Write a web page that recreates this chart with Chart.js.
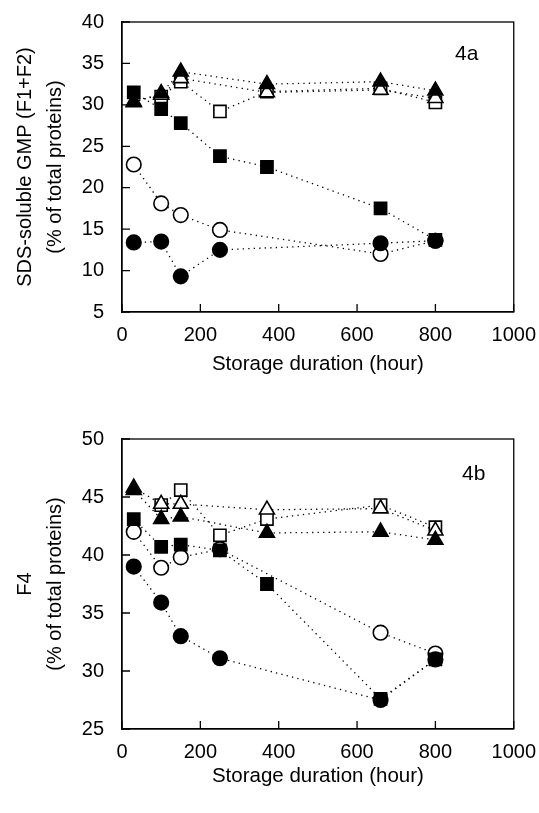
<!DOCTYPE html>
<html>
<head>
<meta charset="utf-8">
<script src="https://cdn.jsdelivr.net/npm/chart.js@4/dist/chart.umd.min.js"></script>
<style>
  html, body { margin: 0; padding: 0; background: #fff; overflow: hidden; }
  body { width: 539px; height: 813px; position: relative; }
  .box { position: absolute; left: 0; width: 539px; }
  #boxA { top: 0; height: 400px; }
  #boxB { top: 417px; height: 396px; }
</style>
</head>
<body>
<div class="box" id="boxA"><canvas id="chartA"></canvas></div>
<div class="box" id="boxB"><canvas id="chartB"></canvas></div>
<script>
// Fig. 4 - SDS-soluble GMP (4a) and F4 (4b) vs storage duration
// x = storage duration (hour); null = no measurement at that time
const hours = [30, 100, 150, 250, 370, 660, 800];

// 4a: SDS-soluble GMP (F1+F2), % of total proteins
const a_openSquare   = [null, 31.0, 32.8, 29.2, 31.6, 32.0, 30.3];
const a_openTriangle = [30.4, 31.2, 33.2, null, 31.5, 31.8, 30.8];
const a_openCircle   = [22.8, 18.1, 16.7, 14.9, null, 12.0, 13.6];
const a_fillCircle   = [13.4, 13.5,  9.3, 12.5, null, 13.3, 13.6];
const a_fillTriangle = [30.3, 31.4, 34.0, null, 32.5, 32.8, 31.7];
const a_fillSquare   = [31.5, 29.5, 27.8, 23.8, 22.5, 17.5, 13.7];

// 4b: F4, % of total proteins
const b_openSquare   = [null, 44.3, 45.6, 41.7, 43.1, 44.3, 42.4];
const b_openTriangle = [45.8, 44.4, 44.4, null, 43.9, 44.0, 42.1];
const b_openCircle   = [42.0, 38.9, 39.8, 40.5, null, 33.3, 31.5];
const b_fillCircle   = [39.0, 35.9, 33.0, 31.1, null, 27.5, 31.0];
const b_fillTriangle = [45.6, 43.1, 43.3, null, 41.9, 42.0, 41.3];
const b_fillSquare   = [43.1, 40.7, 40.9, 40.4, 37.5, 27.6, 31.0];

const xTicks = [0, 200, 400, 600, 800, 1000];
const FONT = "'Liberation Sans', Arial, Helvetica, sans-serif";

function pts(vals) {
    const out = [];
    vals.forEach((v, i) => { if (v !== null) out.push({ x: hours[i], y: v }); });
    return out;
}

function series(vals, style, filled) {
    const radius = style === 'rect' ? 8.6 : (style === 'triangle' ? 8.6 : 7.3);
    return {
        data: pts(vals),
        borderColor: '#000',
        borderWidth: 1.3,
        borderDash: [1.3, 4.2],
        fill: false,
        tension: 0,
        pointStyle: style,
        pointRadius: radius,
        pointBackgroundColor: filled ? '#000' : '#fff',
        pointBorderColor: '#000',
        pointBorderWidth: 1.6
    };
}

// full frame around the plot, inward tick marks, panel tag
const framePlugin = {
    id: 'frame',
    afterDraw(chart, args, opts) {
        const ca = chart.chartArea, ctx = chart.ctx;
        const sx = chart.scales.x, sy = chart.scales.y;
        ctx.save();
        ctx.strokeStyle = '#000';
        ctx.lineWidth = 1.3;
        ctx.strokeRect(ca.left, ca.top, ca.right - ca.left, ca.bottom - ca.top);
        ctx.beginPath();
        sx.ticks.forEach(t => {
            const px = sx.getPixelForValue(t.value);
            ctx.moveTo(px, ca.bottom); ctx.lineTo(px, ca.bottom - 8);
        });
        sy.ticks.forEach(t => {
            const py = sy.getPixelForValue(t.value);
            ctx.moveTo(ca.left, py); ctx.lineTo(ca.left + 8, py);
        });
        ctx.stroke();
        ctx.fillStyle = '#000';
        ctx.font = '21px ' + FONT;
        ctx.textAlign = 'center';
        ctx.textBaseline = 'middle';
        ctx.fillText(opts.tag, ca.right - opts.dx, ca.top + opts.dy);
        ctx.restore();
    }
};

function build(id, sets, yMin, yMax, yTitle, tag, dx, dy, xAxisH, xTitlePad) {
    const ctx = document.getElementById(id).getContext('2d');
    // Chart.js paints dataset 0 last, so the first entry ends up on top
    return new Chart(ctx, {
        type: 'line',
        data: { datasets: [
            series(sets[5], 'rect', true),
            series(sets[4], 'triangle', true),
            series(sets[3], 'circle', true),
            series(sets[2], 'circle', false),
            series(sets[1], 'triangle', false),
            series(sets[0], 'rect', false)
        ] },
        options: {
            responsive: true, maintainAspectRatio: false, animation: false,
            layout: { autoPadding: false, padding: { top: 20, right: 23, left: 0, bottom: 0 } },
            plugins: { legend: { display: false }, tooltip: { enabled: false },
                       frame: { tag: tag, dx: dx, dy: dy } },
            scales: {
                x: {
                    type: 'linear', min: 0, max: 1000,
                    afterBuildTicks: s => { s.ticks = xTicks.map(v => ({ value: v })); },
                    afterFit: s => { s.height = xAxisH; },
                    grid: { display: false },
                    border: { color: '#000', width: 1.3 },
                    ticks: { color: '#000', padding: 3, font: { family: FONT, size: 20 }, maxRotation: 0,
                             callback: v => String(v) },
                    title: { display: true, text: 'Storage duration (hour)', color: '#000',
                             font: { family: FONT, size: 20.5 }, padding: { top: 0, bottom: xTitlePad } }
                },
                y: {
                    min: yMin, max: yMax,
                    ticks: { stepSize: 5, color: '#000', padding: 10, font: { family: FONT, size: 20 } },
                    afterFit: s => { s.width = 122; },
                    grid: { display: false },
                    border: { color: '#000', width: 1.3 },
                    title: { display: true, text: yTitle, color: '#000',
                             font: { family: FONT, size: 20, lineHeight: 1.5 }, padding: { top: 10 } }
                }
            }
        },
        plugins: [framePlugin]
    });
}

build('chartA',
      [a_openSquare, a_openTriangle, a_openCircle, a_fillCircle, a_fillTriangle, a_fillSquare],
      5, 40, ['SDS-soluble GMP (F1+F2)', '(% of total proteins)'], '4a', 47, 32, 88, 23);
build('chartB',
      [b_openSquare, b_openTriangle, b_openCircle, b_fillCircle, b_fillTriangle, b_fillSquare],
      25, 50, ['F4', '(% of total proteins)'], '4b', 40, 35, 84, 24);
</script>
</body>
</html>
